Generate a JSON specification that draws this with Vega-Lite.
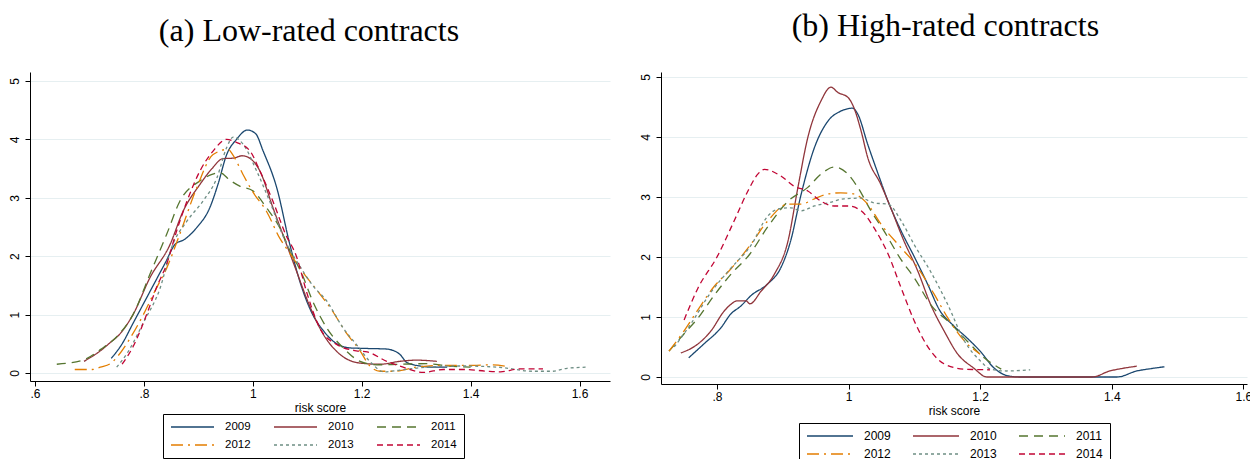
{
  "$schema": "https://vega.github.io/schema/vega-lite/v6.json",
  "padding": {"left": 7, "top": 10, "right": 0, "bottom": 0},
  "background": "white",
  "config": {
    "view": {"stroke": null},
    "axis": {
      "domainColor": "black", "tickColor": "black", "labelColor": "black", "titleColor": "black",
      "labelFont": "Liberation Sans", "titleFont": "Liberation Sans",
      "labelFontSize": 12, "titleFontSize": 12, "titleFontWeight": "normal",
      "tickSize": 5, "domainWidth": 1, "tickWidth": 1,
      "gridColor": "#e6eff1", "gridWidth": 1
    }
  },
  "spacing": 29,
  "resolve": {
    "scale": {"x": "independent", "y": "independent", "color": "independent", "strokeDash": "independent"},
    "legend": {"color": "independent", "strokeDash": "independent"}
  },
  "hconcat": [
    {
      "width": 580,
      "height": 309,
      "title": {"text": "(a) Low-rated contracts", "font": "Liberation Serif", "fontSize": 32, "fontWeight": "normal", "color": "black", "offset": -1, "baseline": "alphabetic", "anchor": "middle", "frame": "bounds"},
      "data": {"values": [
        {"year":"2009","x":0.74,"y":0.25},{"year":"2009","x":0.76,"y":0.5},{"year":"2009","x":0.78,"y":0.85},{"year":"2009","x":0.80,"y":1.2},{"year":"2009","x":0.82,"y":1.55},{"year":"2009","x":0.84,"y":1.9},{"year":"2009","x":0.857,"y":2.2},{"year":"2009","x":0.875,"y":2.29},{"year":"2009","x":0.897,"y":2.49},{"year":"2009","x":0.921,"y":2.83},{"year":"2009","x":0.936,"y":3.23},{"year":"2009","x":0.952,"y":3.74},{"year":"2009","x":0.970,"y":4.0},{"year":"2009","x":0.99,"y":4.16},{"year":"2009","x":1.005,"y":4.1},{"year":"2009","x":1.019,"y":3.8},{"year":"2009","x":1.044,"y":3.17},{"year":"2009","x":1.068,"y":2.2},{"year":"2009","x":1.087,"y":1.55},{"year":"2009","x":1.11,"y":1.0},{"year":"2009","x":1.13,"y":0.72},{"year":"2009","x":1.147,"y":0.55},{"year":"2009","x":1.178,"y":0.43},{"year":"2009","x":1.21,"y":0.42},{"year":"2009","x":1.246,"y":0.41},{"year":"2009","x":1.27,"y":0.32},{"year":"2009","x":1.283,"y":0.18},{"year":"2009","x":1.307,"y":0.12},{"year":"2009","x":1.33,"y":0.1},{"year":"2009","x":1.357,"y":0.1},
        {"year":"2010","x":0.69,"y":0.2},{"year":"2010","x":0.72,"y":0.38},{"year":"2010","x":0.738,"y":0.52},{"year":"2010","x":0.756,"y":0.67},{"year":"2010","x":0.78,"y":1.0},{"year":"2010","x":0.811,"y":1.63},{"year":"2010","x":0.848,"y":2.2},{"year":"2010","x":0.872,"y":2.77},{"year":"2010","x":0.903,"y":3.23},{"year":"2010","x":0.925,"y":3.5},{"year":"2010","x":0.945,"y":3.67},{"year":"2010","x":0.965,"y":3.68},{"year":"2010","x":0.98,"y":3.72},{"year":"2010","x":0.99,"y":3.7},{"year":"2010","x":1.013,"y":3.46},{"year":"2010","x":1.037,"y":2.83},{"year":"2010","x":1.06,"y":2.25},{"year":"2010","x":1.08,"y":1.75},{"year":"2010","x":1.10,"y":1.25},{"year":"2010","x":1.129,"y":0.67},{"year":"2010","x":1.16,"y":0.32},{"year":"2010","x":1.197,"y":0.17},{"year":"2010","x":1.234,"y":0.15},{"year":"2010","x":1.27,"y":0.2},{"year":"2010","x":1.3,"y":0.22},{"year":"2010","x":1.338,"y":0.2},
        {"year":"2011","x":0.64,"y":0.15},{"year":"2011","x":0.688,"y":0.22},{"year":"2011","x":0.72,"y":0.4},{"year":"2011","x":0.756,"y":0.68},{"year":"2011","x":0.78,"y":1.0},{"year":"2011","x":0.811,"y":1.69},{"year":"2011","x":0.842,"y":2.38},{"year":"2011","x":0.866,"y":2.94},{"year":"2011","x":0.903,"y":3.29},{"year":"2011","x":0.925,"y":3.4},{"year":"2011","x":0.94,"y":3.43},{"year":"2011","x":0.958,"y":3.3},{"year":"2011","x":0.976,"y":3.2},{"year":"2011","x":1.0,"y":3.12},{"year":"2011","x":1.025,"y":2.83},{"year":"2011","x":1.05,"y":2.48},{"year":"2011","x":1.068,"y":2.1},{"year":"2011","x":1.09,"y":1.7},{"year":"2011","x":1.11,"y":1.23},{"year":"2011","x":1.136,"y":0.77},{"year":"2011","x":1.166,"y":0.43},{"year":"2011","x":1.197,"y":0.2},{"year":"2011","x":1.228,"y":0.14},{"year":"2011","x":1.27,"y":0.15},{"year":"2011","x":1.318,"y":0.16},{"year":"2011","x":1.36,"y":0.12},{"year":"2011","x":1.40,"y":0.1},
        {"year":"2012","x":0.673,"y":0.06},{"year":"2012","x":0.705,"y":0.06},{"year":"2012","x":0.72,"y":0.1},{"year":"2012","x":0.74,"y":0.17},{"year":"2012","x":0.753,"y":0.3},{"year":"2012","x":0.775,"y":0.6},{"year":"2012","x":0.799,"y":1.0},{"year":"2012","x":0.82,"y":1.4},{"year":"2012","x":0.842,"y":1.8},{"year":"2012","x":0.866,"y":2.38},{"year":"2012","x":0.897,"y":3.17},{"year":"2012","x":0.927,"y":3.74},{"year":"2012","x":0.955,"y":3.83},{"year":"2012","x":0.963,"y":3.74},{"year":"2012","x":0.982,"y":3.4},{"year":"2012","x":1.0,"y":3.1},{"year":"2012","x":1.025,"y":2.77},{"year":"2012","x":1.05,"y":2.3},{"year":"2012","x":1.068,"y":2.05},{"year":"2012","x":1.09,"y":1.75},{"year":"2012","x":1.115,"y":1.45},{"year":"2012","x":1.142,"y":1.12},{"year":"2012","x":1.173,"y":0.67},{"year":"2012","x":1.197,"y":0.38},{"year":"2012","x":1.215,"y":0.12},{"year":"2012","x":1.234,"y":0.03},{"year":"2012","x":1.26,"y":0.03},{"year":"2012","x":1.3,"y":0.1},{"year":"2012","x":1.343,"y":0.13},{"year":"2012","x":1.404,"y":0.13},{"year":"2012","x":1.44,"y":0.14},{"year":"2012","x":1.472,"y":0.1},
        {"year":"2013","x":0.75,"y":0.1},{"year":"2013","x":0.77,"y":0.35},{"year":"2013","x":0.8,"y":0.88},{"year":"2013","x":0.83,"y":1.46},{"year":"2013","x":0.851,"y":2.15},{"year":"2013","x":0.879,"y":2.6},{"year":"2013","x":0.909,"y":2.95},{"year":"2013","x":0.934,"y":3.34},{"year":"2013","x":0.952,"y":3.86},{"year":"2013","x":0.964,"y":4.04},{"year":"2013","x":0.982,"y":3.92},{"year":"2013","x":1.007,"y":3.46},{"year":"2013","x":1.031,"y":2.94},{"year":"2013","x":1.06,"y":2.25},{"year":"2013","x":1.085,"y":1.85},{"year":"2013","x":1.11,"y":1.5},{"year":"2013","x":1.136,"y":1.23},{"year":"2013","x":1.166,"y":0.77},{"year":"2013","x":1.19,"y":0.49},{"year":"2013","x":1.22,"y":0.15},{"year":"2013","x":1.24,"y":0.02},{"year":"2013","x":1.27,"y":0.05},{"year":"2013","x":1.32,"y":0.1},{"year":"2013","x":1.38,"y":0.12},{"year":"2013","x":1.45,"y":0.1},{"year":"2013","x":1.515,"y":0.03},{"year":"2013","x":1.55,"y":0.03},{"year":"2013","x":1.577,"y":0.08},{"year":"2013","x":1.614,"y":0.1},
        {"year":"2014","x":0.76,"y":0.15},{"year":"2014","x":0.78,"y":0.45},{"year":"2014","x":0.805,"y":1.0},{"year":"2014","x":0.823,"y":1.46},{"year":"2014","x":0.842,"y":1.87},{"year":"2014","x":0.86,"y":2.43},{"year":"2014","x":0.879,"y":2.94},{"year":"2014","x":0.903,"y":3.46},{"year":"2014","x":0.927,"y":3.8},{"year":"2014","x":0.952,"y":4.0},{"year":"2014","x":0.97,"y":3.95},{"year":"2014","x":0.995,"y":3.8},{"year":"2014","x":1.013,"y":3.46},{"year":"2014","x":1.037,"y":2.94},{"year":"2014","x":1.06,"y":2.38},{"year":"2014","x":1.08,"y":2.0},{"year":"2014","x":1.10,"y":1.35},{"year":"2014","x":1.123,"y":0.77},{"year":"2014","x":1.154,"y":0.49},{"year":"2014","x":1.19,"y":0.38},{"year":"2014","x":1.21,"y":0.36},{"year":"2014","x":1.246,"y":0.2},{"year":"2014","x":1.276,"y":0.1},{"year":"2014","x":1.313,"y":0.01},{"year":"2014","x":1.35,"y":0.06},{"year":"2014","x":1.39,"y":0.06},{"year":"2014","x":1.43,"y":0.03},{"year":"2014","x":1.455,"y":0.02},{"year":"2014","x":1.49,"y":0.07},{"year":"2014","x":1.533,"y":0.07}
      ]},
      "mark": {"type": "line", "strokeWidth": 1.3, "interpolate": "monotone"},
      "encoding": {
        "x": {"field": "x", "type": "quantitative", "scale": {"domain": [0.5908, 1.656], "nice": false, "zero": false},
              "axis": {"values": [0.6, 0.8, 1, 1.2, 1.4, 1.6], "title": "risk score", "grid": false, "labelPadding": 2, "titlePadding": 3,
                       "labelExpr": "datum.value < 1 ? '.' + format(datum.value * 10, '.0f') : format(datum.value, '~g')"}},
        "y": {"field": "y", "type": "quantitative", "scale": {"domain": [-0.137, 5.154], "nice": false, "zero": false},
              "axis": {"values": [0, 1, 2, 3, 4, 5], "title": null, "grid": true, "labelAngle": 270, "labelAlign": "center", "labelBaseline": "bottom", "labelPadding": 4}},
        "color": {"field": "year", "type": "nominal",
                  "scale": {"domain": ["2009","2010","2011","2012","2013","2014"], "range": ["#1a476f","#90353b","#55752f","#e37e00","#6e8e84","#c10534"]},
                  "legend": {"orient": "none", "legendX": 133, "legendY": 342, "title": null, "direction": "horizontal", "columns": 3, "symbolType": "stroke", "symbolSize": 1849, "symbolStrokeWidth": 1.3, "clipHeight": 12, "labelFont": "Liberation Sans", "labelFontSize": 11.5, "labelColor": "black", "labelOffset": 10, "columnPadding": 22, "rowPadding": 6, "padding": 7, "strokeColor": "black", "fillColor": "white"}},
        "strokeDash": {"field": "year", "type": "nominal",
                  "scale": {"domain": ["2009","2010","2011","2012","2013","2014"], "range": [[1,0],[1,0],[9,6],[12,5,2,5],[3,3],[6,4]]},
                  "legend": {"orient": "none", "legendX": 133, "legendY": 342, "title": null, "direction": "horizontal", "columns": 3, "symbolType": "stroke", "symbolSize": 1849, "symbolStrokeWidth": 1.3, "clipHeight": 12, "labelFont": "Liberation Sans", "labelFontSize": 11.5, "labelColor": "black", "labelOffset": 10, "columnPadding": 22, "rowPadding": 6, "padding": 7, "strokeColor": "black", "fillColor": "white"}}
      }
    },
    {
      "width": 586,
      "height": 312,
      "title": {"text": "(b) High-rated contracts", "font": "Liberation Serif", "fontSize": 32, "fontWeight": "normal", "color": "black", "offset": 4, "baseline": "alphabetic", "anchor": "middle", "frame": "bounds"},
      "data": {"values": [
        {"year":"2009","x":0.757,"y":0.32},{"year":"2009","x":0.78,"y":0.55},{"year":"2009","x":0.806,"y":0.82},{"year":"2009","x":0.821,"y":1.05},{"year":"2009","x":0.836,"y":1.18},{"year":"2009","x":0.852,"y":1.36},{"year":"2009","x":0.877,"y":1.55},{"year":"2009","x":0.897,"y":1.82},{"year":"2009","x":0.912,"y":2.27},{"year":"2009","x":0.928,"y":3.05},{"year":"2009","x":0.948,"y":3.82},{"year":"2009","x":0.969,"y":4.27},{"year":"2009","x":0.988,"y":4.43},{"year":"2009","x":1.006,"y":4.48},{"year":"2009","x":1.014,"y":4.38},{"year":"2009","x":1.029,"y":3.88},{"year":"2009","x":1.045,"y":3.38},{"year":"2009","x":1.06,"y":2.93},{"year":"2009","x":1.08,"y":2.43},{"year":"2009","x":1.1,"y":2.0},{"year":"2009","x":1.12,"y":1.55},{"year":"2009","x":1.138,"y":1.12},{"year":"2009","x":1.16,"y":0.85},{"year":"2009","x":1.18,"y":0.65},{"year":"2009","x":1.2,"y":0.43},{"year":"2009","x":1.221,"y":0.15},{"year":"2009","x":1.242,"y":0.02},{"year":"2009","x":1.26,"y":0},{"year":"2009","x":1.33,"y":0},{"year":"2009","x":1.408,"y":0},{"year":"2009","x":1.438,"y":0.1},{"year":"2009","x":1.46,"y":0.14},{"year":"2009","x":1.48,"y":0.17},
        {"year":"2010","x":0.745,"y":0.4},{"year":"2010","x":0.771,"y":0.55},{"year":"2010","x":0.791,"y":0.77},{"year":"2010","x":0.811,"y":1.1},{"year":"2010","x":0.821,"y":1.21},{"year":"2010","x":0.831,"y":1.27},{"year":"2010","x":0.844,"y":1.27},{"year":"2010","x":0.85,"y":1.22},{"year":"2010","x":0.867,"y":1.43},{"year":"2010","x":0.887,"y":1.71},{"year":"2010","x":0.908,"y":2.27},{"year":"2010","x":0.923,"y":3.16},{"year":"2010","x":0.938,"y":3.99},{"year":"2010","x":0.958,"y":4.6},{"year":"2010","x":0.973,"y":4.83},{"year":"2010","x":0.984,"y":4.74},{"year":"2010","x":0.999,"y":4.66},{"year":"2010","x":1.008,"y":4.49},{"year":"2010","x":1.019,"y":4.1},{"year":"2010","x":1.029,"y":3.66},{"year":"2010","x":1.049,"y":3.21},{"year":"2010","x":1.064,"y":2.82},{"year":"2010","x":1.084,"y":2.27},{"year":"2010","x":1.105,"y":1.77},{"year":"2010","x":1.125,"y":1.2},{"year":"2010","x":1.145,"y":0.77},{"year":"2010","x":1.166,"y":0.38},{"year":"2010","x":1.19,"y":0.15},{"year":"2010","x":1.21,"y":0},{"year":"2010","x":1.29,"y":0},{"year":"2010","x":1.37,"y":0},{"year":"2010","x":1.397,"y":0.1},{"year":"2010","x":1.42,"y":0.15},{"year":"2010","x":1.438,"y":0.18},
        {"year":"2011","x":0.727,"y":0.43},{"year":"2011","x":0.75,"y":0.72},{"year":"2011","x":0.771,"y":0.98},{"year":"2011","x":0.795,"y":1.35},{"year":"2011","x":0.821,"y":1.71},{"year":"2011","x":0.85,"y":2.05},{"year":"2011","x":0.877,"y":2.5},{"year":"2011","x":0.908,"y":2.93},{"year":"2011","x":0.938,"y":3.16},{"year":"2011","x":0.958,"y":3.38},{"year":"2011","x":0.978,"y":3.5},{"year":"2011","x":0.999,"y":3.38},{"year":"2011","x":1.014,"y":3.16},{"year":"2011","x":1.034,"y":2.77},{"year":"2011","x":1.054,"y":2.43},{"year":"2011","x":1.08,"y":1.95},{"year":"2011","x":1.1,"y":1.65},{"year":"2011","x":1.125,"y":1.2},{"year":"2011","x":1.156,"y":0.88},{"year":"2011","x":1.18,"y":0.6},{"year":"2011","x":1.206,"y":0.32},{"year":"2011","x":1.232,"y":0.13},
        {"year":"2012","x":0.727,"y":0.43},{"year":"2012","x":0.75,"y":0.77},{"year":"2012","x":0.771,"y":1.12},{"year":"2012","x":0.795,"y":1.5},{"year":"2012","x":0.821,"y":1.8},{"year":"2012","x":0.852,"y":2.22},{"year":"2012","x":0.877,"y":2.6},{"year":"2012","x":0.908,"y":2.88},{"year":"2012","x":0.928,"y":2.88},{"year":"2012","x":0.948,"y":2.97},{"year":"2012","x":0.969,"y":3.05},{"year":"2012","x":0.988,"y":3.07},{"year":"2012","x":1.008,"y":3.05},{"year":"2012","x":1.029,"y":2.88},{"year":"2012","x":1.049,"y":2.55},{"year":"2012","x":1.08,"y":2.15},{"year":"2012","x":1.1,"y":1.9},{"year":"2012","x":1.13,"y":1.38},{"year":"2012","x":1.151,"y":0.98},{"year":"2012","x":1.176,"y":0.6},{"year":"2012","x":1.2,"y":0.38},
        {"year":"2013","x":0.735,"y":0.5},{"year":"2013","x":0.76,"y":0.88},{"year":"2013","x":0.79,"y":1.4},{"year":"2013","x":0.82,"y":1.8},{"year":"2013","x":0.852,"y":2.2},{"year":"2013","x":0.877,"y":2.68},{"year":"2013","x":0.893,"y":2.8},{"year":"2013","x":0.912,"y":2.82},{"year":"2013","x":0.928,"y":2.77},{"year":"2013","x":0.948,"y":2.85},{"year":"2013","x":0.969,"y":2.9},{"year":"2013","x":0.993,"y":2.97},{"year":"2013","x":1.019,"y":2.98},{"year":"2013","x":1.039,"y":2.9},{"year":"2013","x":1.06,"y":2.88},{"year":"2013","x":1.08,"y":2.6},{"year":"2013","x":1.1,"y":2.2},{"year":"2013","x":1.125,"y":1.75},{"year":"2013","x":1.151,"y":1.2},{"year":"2013","x":1.176,"y":0.6},{"year":"2013","x":1.2,"y":0.27},{"year":"2013","x":1.216,"y":0.13},{"year":"2013","x":1.24,"y":0.1},{"year":"2013","x":1.276,"y":0.12},
        {"year":"2014","x":0.75,"y":0.95},{"year":"2014","x":0.771,"y":1.48},{"year":"2014","x":0.8,"y":2.0},{"year":"2014","x":0.826,"y":2.6},{"year":"2014","x":0.847,"y":3.1},{"year":"2014","x":0.862,"y":3.38},{"year":"2014","x":0.872,"y":3.46},{"year":"2014","x":0.897,"y":3.35},{"year":"2014","x":0.917,"y":3.18},{"year":"2014","x":0.938,"y":3.1},{"year":"2014","x":0.958,"y":2.93},{"year":"2014","x":0.978,"y":2.85},{"year":"2014","x":0.999,"y":2.85},{"year":"2014","x":1.019,"y":2.77},{"year":"2014","x":1.039,"y":2.48},{"year":"2014","x":1.06,"y":2.05},{"year":"2014","x":1.08,"y":1.48},{"year":"2014","x":1.1,"y":0.93},{"year":"2014","x":1.125,"y":0.43},{"year":"2014","x":1.145,"y":0.22},{"year":"2014","x":1.176,"y":0.13},{"year":"2014","x":1.215,"y":0.12}
      ]},
      "mark": {"type": "line", "strokeWidth": 1.3, "interpolate": "monotone"},
      "encoding": {
        "x": {"field": "x", "type": "quantitative", "scale": {"domain": [0.7149, 1.6055], "nice": false, "zero": false},
              "axis": {"values": [0.8, 1, 1.2, 1.4, 1.6], "title": "risk score", "grid": false, "labelPadding": 2, "titlePadding": 3,
                       "labelExpr": "datum.value < 1 ? '.' + format(datum.value * 10, '.0f') : format(datum.value, '~g')"}},
        "y": {"field": "y", "type": "quantitative", "scale": {"domain": [-0.117, 5.083], "nice": false, "zero": false},
              "axis": {"values": [0, 1, 2, 3, 4, 5], "title": null, "grid": true, "labelAngle": 270, "labelAlign": "center", "labelBaseline": "bottom", "labelPadding": 4}},
        "color": {"field": "year", "type": "nominal",
                  "scale": {"domain": ["2009","2010","2011","2012","2013","2014"], "range": ["#1a476f","#90353b","#55752f","#e37e00","#6e8e84","#c10534"]},
                  "legend": {"orient": "none", "legendX": 138, "legendY": 351, "title": null, "direction": "horizontal", "columns": 3, "symbolType": "stroke", "symbolSize": 2116, "symbolStrokeWidth": 1.3, "clipHeight": 12, "labelFont": "Liberation Sans", "labelFontSize": 12, "labelColor": "black", "labelOffset": 10, "columnPadding": 21, "rowPadding": 6, "padding": 7, "strokeColor": "black", "fillColor": "white"}},
        "strokeDash": {"field": "year", "type": "nominal",
                  "scale": {"domain": ["2009","2010","2011","2012","2013","2014"], "range": [[1,0],[1,0],[9,6],[12,5,2,5],[3,3],[6,4]]},
                  "legend": {"orient": "none", "legendX": 138, "legendY": 351, "title": null, "direction": "horizontal", "columns": 3, "symbolType": "stroke", "symbolSize": 2116, "symbolStrokeWidth": 1.3, "clipHeight": 12, "labelFont": "Liberation Sans", "labelFontSize": 12, "labelColor": "black", "labelOffset": 10, "columnPadding": 21, "rowPadding": 6, "padding": 7, "strokeColor": "black", "fillColor": "white"}}
      }
    }
  ]
}
